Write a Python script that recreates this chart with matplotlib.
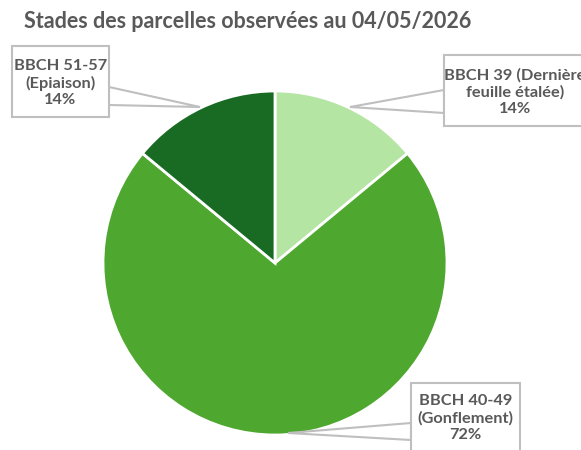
import matplotlib
matplotlib.use('Agg')
import matplotlib.pyplot as plt
from matplotlib.patches import Polygon, Rectangle

plt.rcParams['font.family'] = ['Lato', 'DejaVu Sans']

stages = ['BBCH 39 (Dernière\nfeuille étalée)', 'BBCH 40-49\n(Gonflement)', 'BBCH 51-57\n(Epiaison)']
shares = [14, 72, 14]
title = 'Stades des parcelles observées au 04/05/2026'

slice_colors = ['#B4E5A2', '#4EA72E', '#196B24']
TEXT = '#595959'
EDGE = '#BFBFBF'

H = 450


def img(x, y):
    # image pixel coords (y down) -> axes data coords (y up)
    return (x, H - y)


fig = plt.figure(figsize=(5.81, 4.5), dpi=100)
ax = fig.add_axes([0, 0, 1, 1])

ax.pie(shares, colors=slice_colors, startangle=90, counterclock=False,
       center=img(275, 263), radius=172,
       wedgeprops=dict(edgecolor='white', linewidth=2))

# callouts: box (x0, y0, x1, y1) in image px, leader tip, base points on box edge
callouts = [
    dict(box=(444, 55, 588, 126), base=[(444, 90), (444, 113)], tip=(350, 107),
         text_x=515, text_y=92),
    dict(box=(411, 383, 520, 460), base=[(411, 423), (411, 440)], tip=(288, 433),
         text_x=465.5, text_y=418),
    dict(box=(12, 46, 109, 117), base=[(109, 87), (109, 105)], tip=(200, 107),
         text_x=60.5, text_y=83),
]

for stage, share, c in zip(stages, shares, callouts):
    b0, b1 = c['base']
    ax.add_patch(Polygon([img(*b0), img(*c['tip']), img(*b1)], closed=True,
                         facecolor='white', edgecolor=EDGE, lw=1.5, zorder=3))
    x0, y0, x1, y1 = c['box']
    ax.add_patch(Rectangle(img(x0, y1), x1 - x0, y1 - y0, facecolor='white',
                           edgecolor=EDGE, lw=1.5, zorder=4))
    ax.text(*img(c['text_x'], c['text_y']), '{}\n{}%'.format(stage, share),
            ha='center', va='center', fontsize=11.8, fontweight='bold',
            color=TEXT, linespacing=1.25, zorder=5)

ax.text(*img(248, 21), title, ha='center', va='center', fontsize=15.5,
        fontweight='bold', color=TEXT)

ax.set_xlim(0, 581)
ax.set_ylim(0, H)
ax.set_aspect('equal')
ax.axis('off')

fig.savefig('out.png', dpi=100)
